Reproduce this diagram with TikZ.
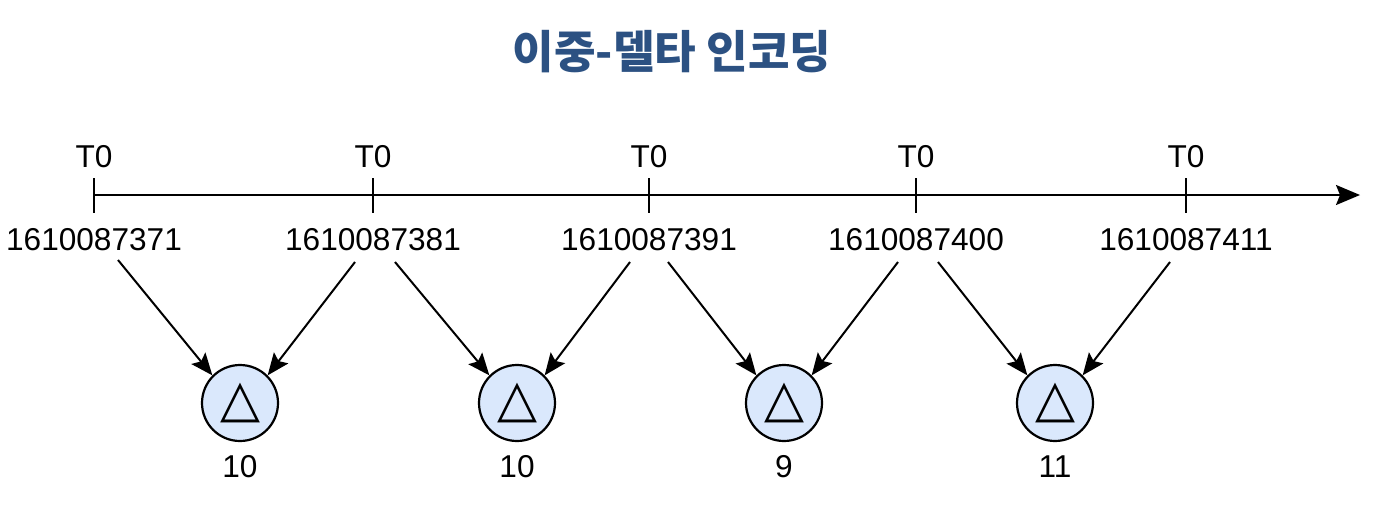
\documentclass[tikz,border=0pt]{standalone}
\usepackage{fontspec}
\setmainfont{Liberation Sans}
\newfontfamily\krfont{Noto Sans CJK KR}
\newfontfamily\symfont{DejaVu Sans}
\usetikzlibrary{arrows.meta}
\definecolor{titleblue}{HTML}{2C5182}
\definecolor{circfill}{HTML}{DAE8FC}
\tikzset{
  lbl/.style={font=\fontsize{15.8}{18}\selectfont, inner sep=0pt},
  tickmark/.style={line width=1pt},
  deltanode/.style={circle, draw=black, line width=1.1pt, fill=circfill, minimum size=38pt, inner sep=0pt, font=\symfont\fontsize{26}{28}\selectfont},
  conn/.style={line width=1pt, -{Stealth[length=11pt,width=9pt,inset=2pt]}},
}
\begin{document}
\begin{tikzpicture}[x=0.5pt,y=-0.5pt]
\useasboundingbox (0,0) rectangle (1374,508);
\node[font=\krfont\bfseries\fontsize{22.6}{26}\selectfont, text=titleblue] (title) at (672,52) {이중-델타 인코딩};
% axis
\coordinate (axs) at (94,195);
\coordinate (axe) at (1360,195);
\draw[line width=1pt, -{Stealth[length=12pt,width=10pt,inset=2pt]}] (axs) -- (axe);
\foreach \i/\x/\v in {1/94/1610087371, 2/373/1610087381, 3/649/1610087391, 4/916/1610087400, 5/1186/1610087411}{
  \draw[tickmark] (\x,178) -- (\x,213);
  \node[lbl] (t\i) at (\x,157) {T0};
  \node[lbl] (n\i) at (\x,240) {\v};
}
% delta circles
\foreach \i/\x/\v in {1/240/10, 2/517/10, 3/784/9, 4/1055/11}{
  \node[deltanode] (d\i) at (\x,403) {\raisebox{1.5pt}{△}};
  \node[lbl] (v\i) at (\x,467) {\v};
}
% connectors
\coordinate (s1r) at (118,260);
\coordinate (s2l) at (355,262);
\coordinate (s2r) at (395,262);
\coordinate (s3l) at (630,262);
\coordinate (s3r) at (668,262);
\coordinate (s4l) at (898,262);
\coordinate (s4r) at (938,262);
\coordinate (s5l) at (1170,262);
\draw[conn] (s1r) -- (d1.135);
\draw[conn] (s2l) -- (d1.45);
\draw[conn] (s2r) -- (d2.135);
\draw[conn] (s3l) -- (d2.45);
\draw[conn] (s3r) -- (d3.135);
\draw[conn] (s4l) -- (d3.45);
\draw[conn] (s4r) -- (d4.135);
\draw[conn] (s5l) -- (d4.45);
\end{tikzpicture}
\end{document}
